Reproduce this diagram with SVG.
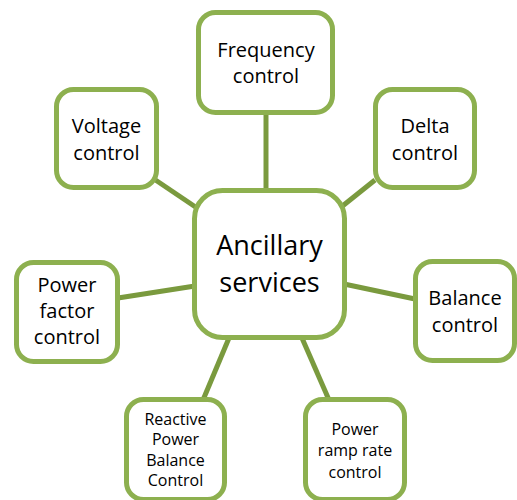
<svg xmlns="http://www.w3.org/2000/svg" width="517" height="500" viewBox="0 0 517 500">
<style>
.box{fill:#ffffff;stroke:#8DB04F;stroke-width:5}
.ln{stroke:#7A9A3E;stroke-width:5;stroke-linecap:butt;fill:none}
text{font-family:"Open Sans","Liberation Sans",sans-serif;fill:#000000;text-anchor:middle}
.t20{font-size:20px}
.t16{font-size:16px}
.t27{font-size:27px}
</style>
<rect width="517" height="500" fill="#ffffff"/>
<g id="connectors">
<line class="ln" x1="266" y1="113" x2="266" y2="193"/>
<line class="ln" x1="154" y1="179" x2="197" y2="208"/>
<line class="ln" x1="375" y1="180" x2="340" y2="208"/>
<line class="ln" x1="118" y1="298" x2="195" y2="286"/>
<line class="ln" x1="415" y1="299" x2="344" y2="284"/>
<line class="ln" x1="229" y1="338" x2="203" y2="400"/>
<line class="ln" x1="302" y1="338" x2="329" y2="400"/>
</g>
<g id="ancillary">
<rect class="box" x="194.5" y="190.5" width="150" height="147" rx="28"/>
<text class="t27" x="269.5" y="255">Ancillary</text>
<text class="t27" x="269.5" y="292">services</text>
</g>
<g id="frequency">
<rect class="box" x="198.5" y="12.5" width="134" height="100" rx="17"/>
<text class="t20" x="266" y="57">Frequency</text>
<text class="t20" x="266" y="83">control</text>
</g>
<g id="voltage">
<rect class="box" x="56.5" y="89.5" width="100" height="98" rx="17"/>
<text class="t20" x="106.5" y="133">Voltage</text>
<text class="t20" x="106.5" y="160">control</text>
</g>
<g id="delta">
<rect class="box" x="375.5" y="89.5" width="99" height="98" rx="17"/>
<text class="t20" x="425" y="133">Delta</text>
<text class="t20" x="425" y="160">control</text>
</g>
<g id="powerfactor">
<rect class="box" x="16.5" y="262.5" width="101" height="99" rx="17"/>
<text class="t20" x="67" y="292">Power</text>
<text class="t20" x="67" y="318">factor</text>
<text class="t20" x="67" y="344">control</text>
</g>
<g id="balance">
<rect class="box" x="415.5" y="261.5" width="99" height="99" rx="17"/>
<text class="t20" x="465" y="305">Balance</text>
<text class="t20" x="465" y="332">control</text>
</g>
<g id="reactive">
<rect class="box" x="126.5" y="399.5" width="98" height="100" rx="17"/>
<text class="t16" x="175.5" y="425">Reactive</text>
<text class="t16" x="175.5" y="445">Power</text>
<text class="t16" x="175.5" y="466">Balance</text>
<text class="t16" x="175.5" y="486">Control</text>
</g>
<g id="ramp">
<rect class="box" x="305.5" y="399.5" width="99" height="100" rx="17"/>
<text class="t16" x="355" y="435">Power</text>
<text class="t16" x="355" y="456">ramp rate</text>
<text class="t16" x="355" y="478">control</text>
</g>
</svg>
